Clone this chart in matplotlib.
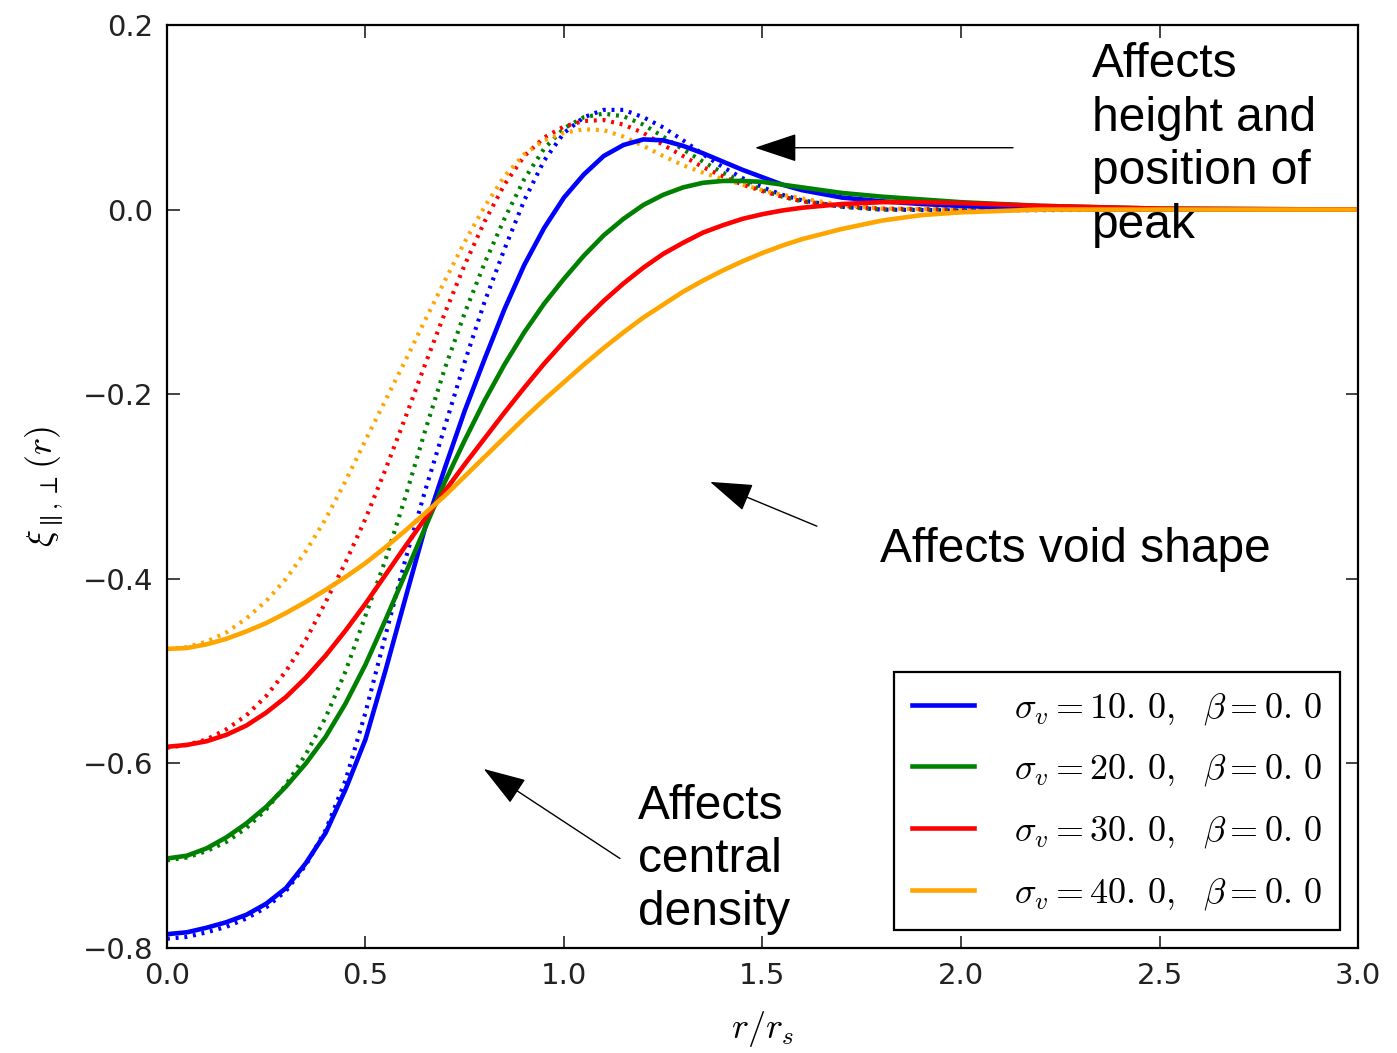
import numpy as np
from matplotlib import pyplot as plt

plt.rcParams['mathtext.fontset'] = 'cm'
plt.rcParams['font.family'] = 'DejaVu Sans'

# solid curves: sigma_v = 10, 20, 30, 40
x_solid = [0.0, 0.05, 0.1, 0.15, 0.2, 0.25, 0.3, 0.35, 0.4, 0.45, 0.5, 0.55, 0.6, 0.65,
           0.7, 0.75, 0.8, 0.85, 0.9, 0.95, 1.0, 1.05, 1.1, 1.15, 1.2, 1.25, 1.3, 1.35,
           1.4, 1.45, 1.5, 1.55, 1.6, 1.7, 1.8, 1.9, 2.0, 2.2, 2.5, 3.0]
blue_solid = [-0.785, -0.783, -0.778, -0.772, -0.764, -0.752, -0.735, -0.708, -0.675, -0.628,
              -0.574, -0.5, -0.422, -0.345, -0.28, -0.218, -0.162, -0.108, -0.06, -0.02,
              0.013, 0.038, 0.058, 0.07, 0.076, 0.075, 0.069, 0.061, 0.052, 0.043,
              0.035, 0.027, 0.021, 0.013, 0.009, 0.006, 0.004, 0.001, 0.0, 0.0]
green_solid = [-0.703, -0.7, -0.692, -0.68, -0.665, -0.647, -0.625, -0.6, -0.571, -0.535,
               -0.493, -0.445, -0.395, -0.345, -0.295, -0.25, -0.207, -0.168, -0.133, -0.102,
               -0.075, -0.05, -0.028, -0.01, 0.005, 0.016, 0.024, 0.029, 0.031, 0.031,
               0.03, 0.027, 0.024, 0.018, 0.014, 0.011, 0.008, 0.004, 0.001, 0.0]
red_solid = [-0.582, -0.58, -0.576, -0.569, -0.559, -0.545, -0.528, -0.507, -0.483, -0.456,
             -0.427, -0.396, -0.365, -0.335, -0.305, -0.276, -0.248, -0.22, -0.193, -0.167,
             -0.143, -0.12, -0.099, -0.08, -0.063, -0.048, -0.036, -0.025, -0.017, -0.01,
             -0.005, -0.001, 0.002, 0.006, 0.008, 0.008, 0.007, 0.004, 0.001, 0.0]
orange_solid = [-0.476, -0.475, -0.471, -0.465, -0.457, -0.448, -0.437, -0.425, -0.412, -0.398,
                -0.383, -0.366, -0.348, -0.329, -0.31, -0.289, -0.268, -0.247, -0.226, -0.206,
                -0.187, -0.168, -0.15, -0.133, -0.117, -0.103, -0.089, -0.077, -0.066, -0.056,
                -0.047, -0.039, -0.032, -0.021, -0.012, -0.006, -0.003, 0.0, 0.0, 0.0]

# dotted curves
x_dot = [0.0, 0.05, 0.1, 0.15, 0.2, 0.25, 0.3, 0.35, 0.4, 0.45, 0.5, 0.55, 0.6, 0.65,
         0.7, 0.75, 0.8, 0.85, 0.9, 0.95, 1.0, 1.05, 1.1, 1.15, 1.2, 1.25, 1.3, 1.35,
         1.4, 1.45, 1.5, 1.55, 1.6, 1.7, 1.8, 2.0, 2.5, 3.0]
blue_dot = [-0.79, -0.788, -0.783, -0.777, -0.768, -0.756, -0.738, -0.71, -0.672, -0.618,
            -0.545, -0.462, -0.38, -0.305, -0.235, -0.165, -0.1, -0.043, 0.01, 0.053,
            0.083, 0.1, 0.108, 0.108, 0.1, 0.089, 0.075, 0.06, 0.046, 0.034,
            0.024, 0.016, 0.01, 0.003, 0.0, -0.001, 0.0, 0.0]
green_dot = [-0.705, -0.702, -0.695, -0.685, -0.67, -0.65, -0.623, -0.59, -0.55, -0.5,
             -0.44, -0.38, -0.312, -0.24, -0.172, -0.112, -0.058, -0.01, 0.033, 0.066,
             0.088, 0.1, 0.104, 0.101, 0.092, 0.079, 0.065, 0.052, 0.04, 0.03,
             0.021, 0.014, 0.009, 0.003, 0.0, 0.0, 0.0, 0.0]
red_dot = [-0.583, -0.58, -0.574, -0.563, -0.548, -0.527, -0.5, -0.466, -0.425, -0.382,
           -0.335, -0.282, -0.226, -0.168, -0.112, -0.06, -0.013, 0.027, 0.058, 0.078,
           0.09, 0.096, 0.097, 0.092, 0.083, 0.07, 0.058, 0.046, 0.036, 0.027,
           0.02, 0.014, 0.009, 0.004, 0.001, 0.0, 0.0, 0.0]
orange_dot = [-0.476, -0.474, -0.468, -0.458, -0.443, -0.424, -0.4, -0.37, -0.335, -0.294,
              -0.25, -0.207, -0.164, -0.12, -0.077, -0.035, 0.003, 0.036, 0.06, 0.075,
              0.083, 0.087, 0.086, 0.079, 0.069, 0.058, 0.048, 0.04, 0.033, 0.027,
              0.021, 0.016, 0.012, 0.005, 0.001, 0.0, 0.0, 0.0]

colors = ['#0000ff', '#008000', '#ff0000', '#ffa500']
labels = [r'$\sigma_v=10.\,0,\ \ \beta=0.\,0$', r'$\sigma_v=20.\,0,\ \ \beta=0.\,0$',
          r'$\sigma_v=30.\,0,\ \ \beta=0.\,0$', r'$\sigma_v=40.\,0,\ \ \beta=0.\,0$']

fig = plt.figure(figsize=(13.97, 10.53), dpi=100)
ax = fig.add_axes([0.1195, 0.0997, 0.8526, 0.8766])

solids = [blue_solid, green_solid, red_solid, orange_solid]
dots = [blue_dot, green_dot, red_dot, orange_dot]
for ys, c in zip(dots, colors):
    ax.plot(x_dot, ys, color=c, lw=3, linestyle=(0, (0.7, 1.4)))
for ys, c, lab in zip(solids, colors, labels):
    ax.plot(x_solid, ys, color=c, lw=3.3, label=lab)

ax.set(xlim=(0, 3), ylim=(-0.8, 0.2))
ax.set_xticks([0, 0.5, 1.0, 1.5, 2.0, 2.5, 3.0])
ax.set_yticks([-0.8, -0.6, -0.4, -0.2, 0.0, 0.2])
ax.tick_params(direction='in', top=True, right=True, length=9, width=1.2,
               labelsize=21, pad=10, colors='#222222', labelcolor='#222222')
for sp in ax.spines.values():
    sp.set_linewidth(1.6)
ax.set_xlabel(r'$r/r_s$', fontsize=26, labelpad=14)
ax.set_ylabel(r'$\xi_{\parallel,\perp}(r)$', fontsize=26, labelpad=12)

leg = ax.legend(loc='lower right', bbox_to_anchor=(0.985, 0.0195), fontsize=26,
                handlelength=1.7, handletextpad=1.1, labelspacing=0.7,
                borderpad=0.5, borderaxespad=0, fancybox=False, framealpha=1)
leg.get_frame().set_edgecolor('black')
leg.get_frame().set_linewidth(1.6)

arrow = dict(arrowstyle='-|>,head_length=0.9,head_width=0.3', color='black', lw=1,
             mutation_scale=30, shrinkA=0, shrinkB=0)
txt = dict(fontsize=34.5, family='Liberation Sans', color='black')
ax.annotate('', xy=(1.481, 0.067), xytext=(2.131, 0.067), arrowprops=arrow)
ax.annotate('', xy=(1.368, -0.295), xytext=(1.637, -0.343), arrowprops=arrow)
ax.annotate('', xy=(0.798, -0.606), xytext=(1.141, -0.703), arrowprops=arrow)
ax.text(2.33, 0.07, 'Affects\nheight and\nposition of\npeak', va='center', ha='left',
        linespacing=1.24, **txt)
ax.text(1.796, -0.368, 'Affects void shape', va='center', ha='left', **txt)
ax.text(1.186, -0.704, 'Affects\ncentral\ndensity', va='center', ha='left',
        linespacing=1.24, **txt)

fig.savefig('out.png')
